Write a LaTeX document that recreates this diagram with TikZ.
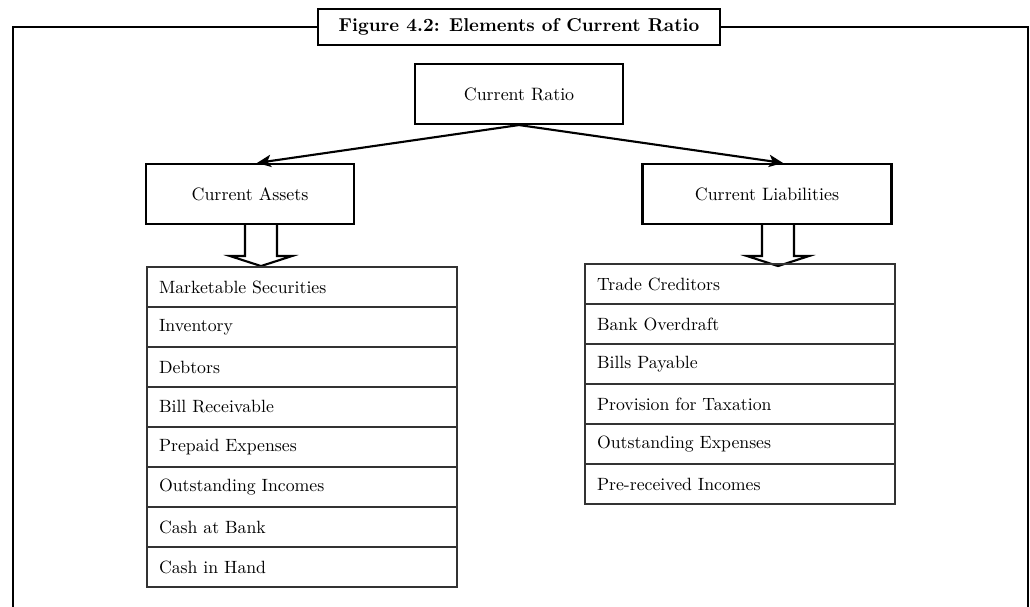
\documentclass[tikz,border=0pt]{standalone}
\usetikzlibrary{positioning,arrows.meta}

\begin{document}
\begin{tikzpicture}[x=0.02cm, y=-0.02cm,
		box/.style={draw, line width=1.2pt, minimum width=4.16cm, minimum height=1.2cm, font=\fontsize{10.2}{12}\selectfont},
		item/.style={draw=black!80, line width=0.7pt, minimum width=6.2cm, minimum height=0.8cm, text width=5.72cm, inner xsep=0.24cm, align=left, outer sep=0pt, font=\fontsize{10.1}{12}\selectfont},
		hollow/.style={draw, line width=1.2pt, fill=white},
		link/.style={-{Stealth[length=8pt,width=7pt,inset=2pt]}, line width=1.2pt}]
			
			\useasboundingbox (0,0) rectangle (1030,607);
			
			% Title and frame
			\node[draw, line width=1.5pt, minimum width=8.04cm, minimum height=0.72cm, font=\bfseries\fontsize{10.6}{12}\selectfont] (title) at (519,27) {Figure 4.2: Elements of Current Ratio};
			\coordinate (frameleft) at (13,607);
			\coordinate (frameright) at (1028,607);
			\draw[line width=1.5pt] (title.west) -| (frameleft);
			\draw[line width=1.5pt] (title.east) -| (frameright);
			
			% Ratio
			\node[box] (ratio) at (519,94) {Current Ratio};
			\node[box] (assets) at (250,194) {Current Assets};
			\node[box, minimum width=4.98cm] (liabilities) at (767,194) {Current Liabilities};
			
			\draw[link] (ratio.south) -- ([xshift=0.14cm]assets.north);
			\draw[link] (ratio.south) -- ([xshift=0.32cm]liabilities.north);
			
			% Hollow arrows
			\draw[hollow] ([xshift=0.22cm]assets.south) ++(-16,0) -- ++(0,31) -- ++(-15,0) -- ++(31,10) -- ++(31,-10) -- ++(-15,0) -- ++(0,-31);
			\draw[hollow] ([xshift=0.22cm]liabilities.south) ++(-16,0) -- ++(0,31) -- ++(-15,0) -- ++(31,10) -- ++(31,-10) -- ++(-15,0) -- ++(0,-31);
			
			% Assets
			\node[item] (securities) at (302,287) {Marketable Securities};
			\node[item, below=0pt of securities] (inventory) {Inventory};
			\node[item, below=0pt of inventory] (debtors) {Debtors};
			\node[item, below=0pt of debtors] (receivable) {Bill Receivable};
			\node[item, below=0pt of receivable] (prepaid) {Prepaid Expenses};
			\node[item, below=0pt of prepaid] (incomes) {Outstanding Incomes};
			\node[item, below=0pt of incomes] (bank) {Cash at Bank};
			\node[item, below=0pt of bank] (hand) {Cash in Hand};
			
			% Liabilities
			\node[item] (creditors) at (740,284) {Trade Creditors};
			\node[item, below=0pt of creditors] (overdraft) {Bank Overdraft};
			\node[item, below=0pt of overdraft] (payable) {Bills Payable};
			\node[item, below=0pt of payable] (taxation) {Provision for Taxation};
			\node[item, below=0pt of taxation] (expenses) {Outstanding Expenses};
			\node[item, below=0pt of expenses] (received) {Pre-received Incomes};
		\end{tikzpicture}
\end{document}
